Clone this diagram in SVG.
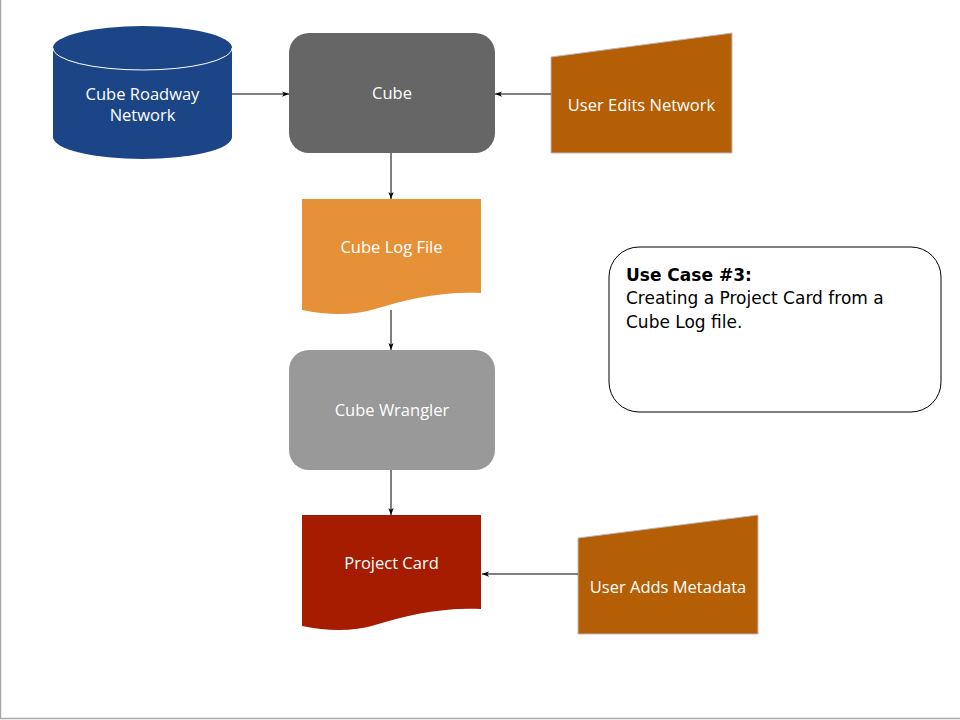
<svg xmlns="http://www.w3.org/2000/svg" width="960" height="720" viewBox="0 0 960 720">
<defs>
<style>
.lbl{font-family:"Open Sans","Liberation Sans",sans-serif;font-size:16.5px;fill:#ffffff;text-anchor:middle}
.note{font-family:"DejaVu Sans","Liberation Sans",sans-serif;font-size:17px;fill:#000000}
.edge{stroke:#000000;stroke-width:1;fill:none;marker-end:url(#ah)}
</style>
<marker id="ah" viewBox="0 0 8 8" refX="8" refY="4" markerWidth="7" markerHeight="7" markerUnits="userSpaceOnUse" orient="auto">
<path d="M0,1 L8,4 L0,7 L2,4 Z" fill="#000000"/>
</marker>
</defs>
<rect x="0" y="0" width="960" height="720" fill="#ffffff"/>
<path d="M0.5,0 V718.5 H960" fill="none" stroke="#aaaaaa" stroke-width="1.5"/>

<g id="cylinder-roadway">
<path d="M53,48 V137 A89.5,22 0 0 0 232,137 V48 A89.5,22 0 0 0 53,48 Z" fill="#1c4587"/>
<path d="M53,48 A89.5,22 0 0 0 232,48" fill="none" stroke="#ffffff" stroke-width="1"/>
<text class="lbl" x="142.5" y="100">Cube Roadway</text>
<text class="lbl" x="142.5" y="121">Network</text>
</g>

<g id="cube">
<rect x="289" y="33" width="206" height="120" rx="20" fill="#666666"/>
<text class="lbl" x="392" y="99">Cube</text>
</g>

<g id="user-edits">
<path d="M551,57 L732,33 V153 H551 Z" fill="#b45f06" stroke="#bbbbbb" stroke-width="1"/>
<text class="lbl" x="641.5" y="111">User Edits Network</text>
</g>

<g id="cube-log-file">
<path d="M302,199 H481 V293 C440,291 405,300 375,309 C355,315 330,316 302,310 Z" fill="#e69138"/>
<text class="lbl" x="391.5" y="253">Cube Log File</text>
</g>

<g id="cube-wrangler">
<rect x="289" y="350" width="206" height="120" rx="20" fill="#999999"/>
<text class="lbl" x="392" y="416">Cube Wrangler</text>
</g>

<g id="project-card">
<path d="M302,515 H481 V609 C440,607 405,616 375,625 C355,631 330,632 302,626 Z" fill="#a61c00"/>
<text class="lbl" x="391.5" y="569">Project Card</text>
</g>

<g id="user-adds">
<path d="M578,538 L758,515 V634 H578 Z" fill="#b45f06" stroke="#bbbbbb" stroke-width="1"/>
<text class="lbl" x="668" y="593">User Adds Metadata</text>
</g>

<g id="use-case-note">
<rect x="609" y="247" width="332" height="165" rx="30" fill="#ffffff" stroke="#000000" stroke-width="1"/>
<text class="note" x="626" y="281" font-weight="bold">Use Case #3:</text>
<text class="note" x="626" y="304">Creating a Project Card from a</text>
<text class="note" x="626" y="328">Cube Log file.</text>
</g>

<g id="connectors">
<line class="edge" x1="232" y1="94" x2="289" y2="94"/>
<line class="edge" x1="551" y1="94" x2="495" y2="94"/>
<line class="edge" x1="391" y1="153" x2="391" y2="199"/>
<line class="edge" x1="391" y1="310" x2="391" y2="350"/>
<line class="edge" x1="391" y1="470" x2="391" y2="515"/>
<line class="edge" x1="578" y1="574" x2="482" y2="574"/>
</g>
</svg>
